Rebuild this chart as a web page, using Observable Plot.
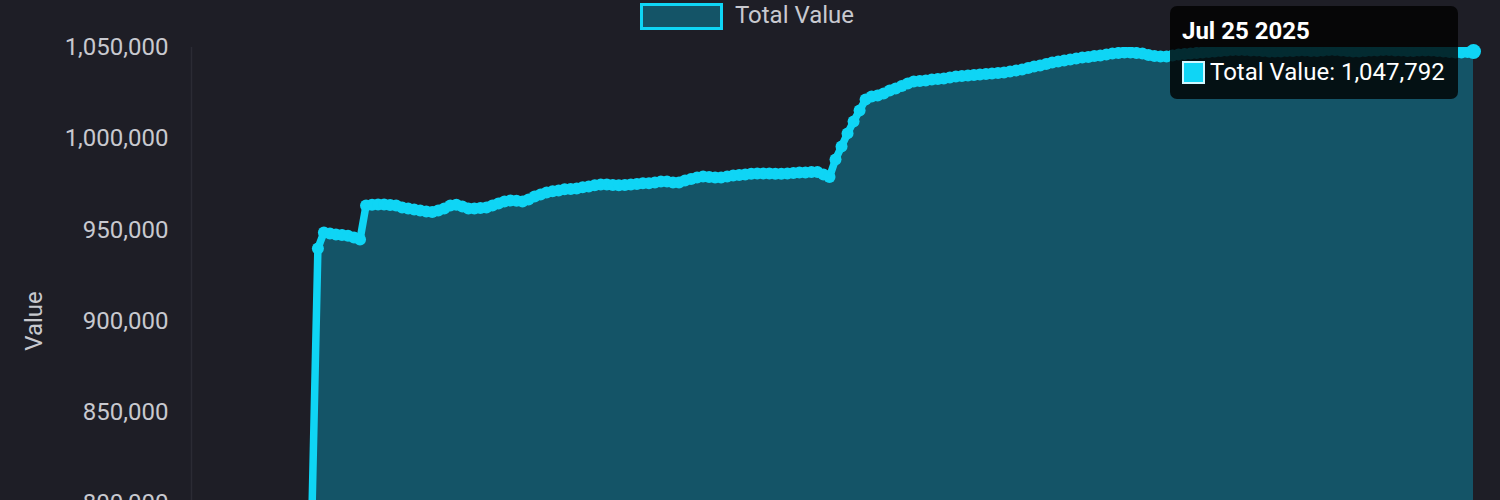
<!DOCTYPE html>
<html>
<head>
<meta charset="utf-8">
<script src="https://cdn.jsdelivr.net/npm/d3@7"></script>
<script src="https://cdn.jsdelivr.net/npm/@observablehq/plot@0.6"></script>
<style>
  html, body { margin: 0; padding: 0; background: #1e1e26; overflow: hidden; font-family: Roboto, sans-serif; }
  #wrap { position: relative; width: 1500px; height: 500px; overflow: hidden; background: #1e1e26; }
  #legend { height: 30px; display: flex; align-items: center; justify-content: center; padding-right: 6px; color: #c8c9cf; font-size: 24px; }
  #legend .sw { width: 77px; height: 21px; border: 3.5px solid #0fd5f5; background: rgba(0, 212, 255, 0.3); margin-right: 12px; margin-top: 2px; }
  #chart svg { display: block; }
  #tip { position: absolute; width: 288px; height: 93px; background: rgba(0, 0, 0, 0.8); border-radius: 7px; color: #fff; font-size: 24px; }
  #tip .t { position: absolute; left: 12px; top: 11px; font-weight: bold; line-height: 28px; white-space: nowrap; }
  #tip .row { position: absolute; left: 12px; top: 52px; display: flex; align-items: center; line-height: 28px; white-space: nowrap; }
  #tip .b { width: 19px; height: 19px; border: 2px solid #d0f7ff; background: #0fd5f5; margin-right: 5px; }
</style>
</head>
<body>
<div id="wrap">
  <div id="legend"><div class="sw"></div><span id="legendLabel"></span></div>
  <div id="chart"></div>
  <div id="tip"><div class="t" id="tipTitle"></div><div class="row"><div class="b"></div><span id="tipText"></span></div></div>
</div>
<script>
// ---- data ----
const seriesName = "Total Value";
const axisTitle = "Value";
const startDate = "2025-01-13";           // date of first value, daily steps
const xDomainDates = ["2024-12-24", "2025-07-25"];
const yDomain = [750000, 1050000];
const yTicks = [750000, 800000, 850000, 900000, 950000, 1000000, 1050000];
const values = [
  793000,
  939800, 948600, 948000, 947500, 947200, 946700, 945800, 944700,
  963400, 963700, 963900, 963900, 963600, 963400, 962300, 961700, 961200, 960600,
  960100, 959800, 960600, 961700, 963400, 963700, 962800, 961700, 961700, 962000,
  962300, 963400, 964500, 965600, 966100, 965900, 965600, 966700, 968300, 969400,
  970500, 971100, 971600, 972200, 972400, 972700, 973300, 973800, 974400, 974900,
  974900, 974600, 974400, 974600, 974900, 975200, 975500, 975500, 976000, 976500,
  976500, 976000, 976000, 977100, 977900, 978700, 979300, 979000, 978700, 978700,
  979300, 979800, 980100, 980400, 980700, 980900, 980900, 980900, 980700, 980700,
  980900, 981200, 981500, 981500, 981700, 981700, 980400, 979000, 988600, 995700,
  1002900, 1009400, 1015500, 1021500, 1023100, 1023700, 1024800, 1026400, 1027500, 1028900,
  1030300, 1031400, 1031600, 1031900, 1032500, 1032700, 1033000, 1033600, 1034100, 1034400,
  1034700, 1034900, 1035200, 1035500, 1035700, 1036000, 1036300, 1036800, 1037400, 1037900,
  1038800, 1039600, 1040100, 1041000, 1041800, 1042300, 1042900, 1043400, 1044000, 1044500,
  1044800, 1045300, 1045600, 1046200, 1046700, 1047000, 1047300, 1047300, 1047000, 1046700,
  1045900, 1045300, 1045100, 1045100, 1045600, 1046200, 1046400, 1046700, 1047000, 1047300,
  1047500, 1047800, 1048100, 1048400, 1048600, 1048600, 1048600, 1048400, 1048400, 1048100,
  1047800, 1047800, 1047800, 1048100, 1048100, 1048400, 1048400, 1048100, 1048100, 1048400,
  1048600, 1048600, 1048400, 1048100, 1047800, 1047800, 1048100, 1048400, 1048400, 1048600,
  1048600, 1048400, 1048400, 1048100, 1048100, 1048400, 1048400, 1048400, 1048100, 1047800,
  1047500, 1047300, 1047300, 1047500, 1047792
];

// ---- build ----
const cyan = "#0fd5f5";
const t0 = new Date(startDate + "T00:00:00Z");
const dates = values.map((_, i) => d3.utcDay.offset(t0, i));
const data = values.map((v, i) => ({date: dates[i], value: v}));
const xDomain = xDomainDates.map(d => new Date(d + "T00:00:00Z"));
const last = data[data.length - 1];

document.getElementById("legendLabel").textContent = seriesName;

const chart = Plot.plot({
  width: 1500,
  height: 604,
  marginLeft: 191,
  marginRight: 27,
  marginTop: 17,
  marginBottom: 40,
  style: {background: "transparent", color: "#c8c9cf", fontFamily: "Roboto, sans-serif", fontSize: "24px"},
  x: {type: "utc", domain: xDomain, axis: null},
  y: {
    domain: yDomain,
    ticks: yTicks,
    tickFormat: d3.format(","),
    tickSize: 0,
    tickPadding: 23,
    label: null
  },
  marks: [
    Plot.ruleX([xDomain[0]], {stroke: "#2b2b34", strokeWidth: 1.5}),
    Plot.areaY(data, {x: "date", y: "value", fill: "#00d4ff", fillOpacity: 0.3, clip: true}),
    Plot.lineY(data, {x: "date", y: "value", stroke: cyan, strokeWidth: 7.5, clip: true}),
    Plot.dot(data, {x: "date", y: "value", r: 6, fill: cyan, clip: true}),
    Plot.dot([last], {x: "date", y: "value", r: 7.5, fill: cyan}),
    Plot.text([axisTitle], {
      frameAnchor: "left", dx: -157, rotate: -90, fill: "#c8c9cf",
      fontSize: 24, textAnchor: "middle"
    })
  ]
});
document.getElementById("chart").appendChild(chart);

// tooltip positioned from the chart's own scales
const legendH = document.getElementById("legend").offsetHeight;
const px = chart.scale("x").apply(last.date);
const py = chart.scale("y").apply(last.value) + legendH;
const tip = document.getElementById("tip");
tip.style.left = (px - 15 - 288) + "px";
tip.style.top = (py - 45) + "px";
document.getElementById("tipTitle").textContent = d3.utcFormat("%b %-d %Y")(last.date);
document.getElementById("tipText").textContent = seriesName + ": " + d3.format(",")(last.value);
</script>
</body>
</html>
